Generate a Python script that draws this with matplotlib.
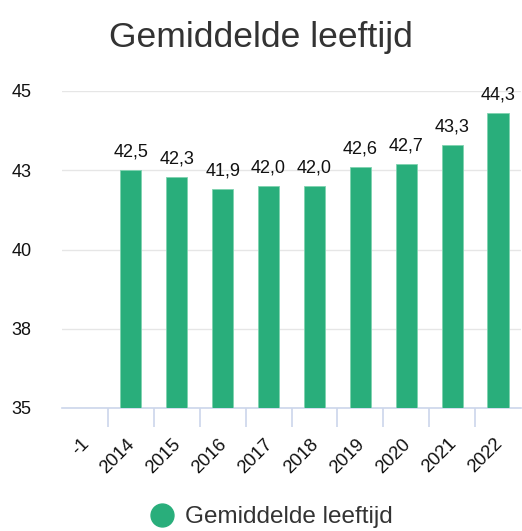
import matplotlib.pyplot as plt
from matplotlib.lines import Line2D

plt.rcParams["font.family"] = ["Liberation Sans", "DejaVu Sans"]

categories = ["-1", "2014", "2015", "2016", "2017", "2018", "2019", "2020", "2021", "2022"]
values = [None, 42.5, 42.3, 41.9, 42.0, 42.0, 42.6, 42.7, 43.3, 44.3]
y_ticks = [35, 37.5, 40, 42.5, 45]
y_tick_labels = ["35", "38", "40", "43", "45"]

BAR_COLOR = "#29ae7b"
TEXT_COLOR = "#333333"

fig = plt.figure(figsize=(5.22, 5.31), dpi=100)
ax = fig.add_axes([62 / 522, 1 - 408 / 531, (521 - 62) / 522, (408 - 91) / 531])

xs = [i for i, v in enumerate(values) if v is not None]
vals = [v for v in values if v is not None]
ax.bar(xs, vals, width=0.46, color=BAR_COLOR, edgecolor="#7fd3b0",
       linewidth=0.6, zorder=3)
for x, v in zip(xs, vals):
    ax.text(x, v + 0.3, f"{v:.1f}".replace(".", ","), ha="center", va="bottom",
            fontsize=13, color="#111111", zorder=4)

ax.set_xlim(-0.5, len(categories) - 0.5)
ax.set_ylim(35, 45)
ax.set_yticks(y_ticks)
ax.set_yticklabels(y_tick_labels, fontsize=13, color="#111111")
ax.tick_params(axis="y", length=0, pad=22)
ax.yaxis.grid(True, color="#e6e6e6", linewidth=1, zorder=0)

# category boundary ticks
ax.set_xticks([i + 0.5 for i in range(len(categories) - 1)])
ax.set_xticklabels([])
ax.tick_params(axis="x", length=14, width=1.2, color="#ccd6eb")
for i, lab in enumerate(categories):
    ax.annotate(lab, xy=(i, 35), xycoords="data", xytext=(1, -24),
                textcoords="offset points", rotation=45, ha="right", va="center",
                fontsize=13.3, color="#111111", rotation_mode="anchor")

for side in ["top", "right", "left"]:
    ax.spines[side].set_visible(False)
ax.spines["bottom"].set_color("#ccd6eb")
ax.spines["bottom"].set_linewidth(1.2)

fig.text(0.5, 1 - 38 / 531, "Gemiddelde leeftijd", ha="center", va="center",
         fontsize=25.5, color=TEXT_COLOR)

handle = Line2D([], [], marker="o", linestyle="none", markersize=16.5,
                markerfacecolor=BAR_COLOR, markeredgecolor=BAR_COLOR)
fig.legend([handle], ["Gemiddelde leeftijd"], loc="center",
           bbox_to_anchor=(0.52, 1 - 517 / 531), frameon=False,
           fontsize=17.5, labelcolor=TEXT_COLOR, handlelength=1.0,
           handletextpad=0.45, borderpad=0)

fig.savefig("out.png", dpi=100)
